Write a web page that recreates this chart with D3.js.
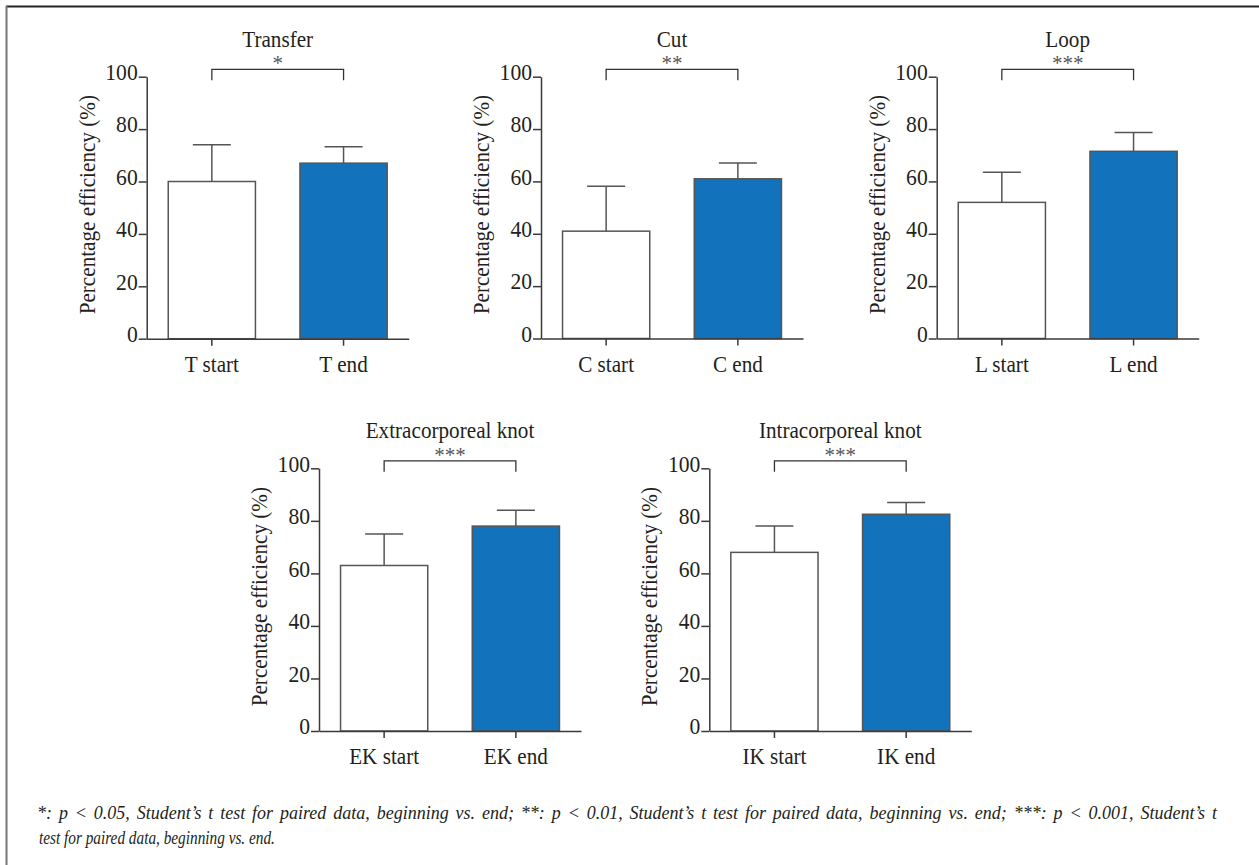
<!DOCTYPE html>
<html>
<head>
<meta charset="utf-8">
<script src="https://cdn.jsdelivr.net/npm/d3@7"></script>
<style>
  html, body { margin: 0; padding: 0; background: #fff; }
  svg { display: block; }
  text { font-family: "Liberation Serif", "Times New Roman", serif; fill: #231f20; }
</style>
</head>
<body>
<svg id="chart" width="1259" height="865"></svg>
<script>
// ---- Data ----
const titles = ["Transfer", "Cut", "Loop", "Extracorporeal knot", "Intracorporeal knot"];
const startLabels = ["T start", "C start", "L start", "EK start", "IK start"];
const endLabels = ["T end", "C end", "L end", "EK end", "IK end"];
const startMeans = [60, 41, 52, 63, 68];
const startSD = [14, 17.2, 11.5, 12, 10];
const endMeans = [67, 61, 71.5, 78, 82.5];
const endSD = [6.3, 6, 7.2, 6, 4.5];
const significance = ["*", "**", "***", "***", "***"];
const yTicks = [0, 20, 40, 60, 80, 100];
const yLabel = "Percentage efficiency (%)";
const footnote1 = "*: p < 0.05, Student\u2019s t test for paired data, beginning vs. end; **: p < 0.01, Student\u2019s t test for paired data, beginning vs. end; ***: p < 0.001, Student\u2019s t";
const footnote2 = "test for paired data, beginning vs. end.";

// ---- Layout ----
const panels = [
  {x: 146.7, top: 76.7, bottom: 338.7},
  {x: 541,   top: 76.7, bottom: 338.5},
  {x: 936.7, top: 76.7, bottom: 338.5},
  {x: 319,   top: 468.3, bottom: 731},
  {x: 709.3, top: 468.3, bottom: 731}
];
const plotW = 262;
const blue = "#1273bc";
const axisColor = "#3a3a3a";
const condense = 0.92;

const svg = d3.select("#chart");

function squeeze(sel, f) {
  sel.each(function () {
    const w = this.getComputedTextLength();
    d3.select(this).attr("textLength", w * f).attr("lengthAdjust", "spacingAndGlyphs");
  });
}

// frame
svg.append("line").attr("x1", 6).attr("x2", 1259).attr("y1", 6.5).attr("y2", 6.5)
  .attr("stroke", "#222").attr("stroke-width", 2);
svg.append("line").attr("x1", 6.5).attr("x2", 6.5).attr("y1", 6).attr("y2", 865)
  .attr("stroke", "#777").attr("stroke-width", 2);

panels.forEach((p, i) => {
  const g = svg.append("g").attr("transform", `translate(${p.x},0)`);
  const cats = [startLabels[i], endLabels[i]];
  const means = [startMeans[i], endMeans[i]];
  const sds = [startSD[i], endSD[i]];

  const x = d3.scaleBand().domain(cats).range([0, plotW]).paddingInner(0.338).paddingOuter(0.1635);
  const y = d3.scaleLinear().domain([0, 100]).range([p.bottom, p.top]);

  // bars
  g.selectAll("rect.bar").data(cats).join("rect")
    .attr("class", "bar")
    .attr("x", d => x(d))
    .attr("width", x.bandwidth())
    .attr("y", (d, k) => y(means[k]))
    .attr("height", (d, k) => y(0) - y(means[k]))
    .attr("fill", (d, k) => k === 0 ? "#fff" : blue)
    .attr("stroke", "#555")
    .attr("stroke-width", 1.5);

  // error bars
  const eb = g.selectAll("g.err").data(cats).join("g").attr("class", "err");
  eb.append("line")
    .attr("x1", d => x(d) + x.bandwidth() / 2).attr("x2", d => x(d) + x.bandwidth() / 2)
    .attr("y1", (d, k) => y(means[k])).attr("y2", (d, k) => y(means[k] + sds[k]))
    .attr("stroke", "#555").attr("stroke-width", 1.5);
  eb.append("line")
    .attr("x1", d => x(d) + x.bandwidth() / 2 - 19).attr("x2", d => x(d) + x.bandwidth() / 2 + 19)
    .attr("y1", (d, k) => y(means[k] + sds[k])).attr("y2", (d, k) => y(means[k] + sds[k]))
    .attr("stroke", "#555").attr("stroke-width", 1.5);

  // y axis
  const yAxis = g.append("g").call(
    d3.axisLeft(y).tickValues(yTicks).tickSize(8).tickSizeOuter(0).tickPadding(1)
  );
  yAxis.select(".domain").attr("stroke", axisColor).attr("stroke-width", 1.5);
  yAxis.selectAll(".tick line").attr("stroke", axisColor).attr("stroke-width", 1.5);
  yAxis.selectAll(".tick text").attr("font-size", 22.5).attr("dy", "0.12em")
    .style("font-family", "Liberation Serif").attr("fill", "#231f20");
  squeeze(yAxis.selectAll(".tick text"), 0.96);

  // x axis
  const xAxis = g.append("g").attr("transform", `translate(0,${y(0)})`).call(
    d3.axisBottom(x).tickSize(7).tickSizeOuter(0).tickPadding(10)
  );
  xAxis.select(".domain").attr("stroke", axisColor).attr("stroke-width", 1.5);
  xAxis.selectAll(".tick line").attr("stroke", axisColor).attr("stroke-width", 1.5);
  xAxis.selectAll(".tick text").attr("font-size", 23)
    .style("font-family", "Liberation Serif").attr("fill", "#231f20");
  squeeze(xAxis.selectAll(".tick text"), condense);

  // y label
  const yl = g.append("text")
    .attr("transform", `translate(-60,${(y(0) + y(100)) / 2 - 3}) rotate(-90)`)
    .attr("text-anchor", "middle")
    .attr("dy", "0.35em")
    .attr("font-size", 23)
    .text(yLabel);
  squeeze(yl, condense);

  // significance bracket
  const c1 = x(cats[0]) + x.bandwidth() / 2;
  const c2 = x(cats[1]) + x.bandwidth() / 2;
  const by = y(100) - 7.4;
  g.append("path")
    .attr("d", `M${c1},${y(100) + 3.5}V${by}H${c2}V${y(100) + 3.5}`)
    .attr("fill", "none").attr("stroke", "#333").attr("stroke-width", 1.3);
  g.append("text")
    .attr("x", (c1 + c2) / 2).attr("y", by + 1)
    .attr("text-anchor", "middle")
    .attr("font-size", 21)
    .style("fill", "#555")
    .text(significance[i]);

  // title
  const t = g.append("text")
    .attr("x", (c1 + c2) / 2).attr("y", y(100) - 30)
    .attr("text-anchor", "middle")
    .attr("font-size", 23)
    .text(titles[i]);
  squeeze(t, condense);
});

// footnote (condensed italic, justified first line)
const s1 = 1.0, s2 = 0.85;
const fn1 = svg.append("g").attr("transform", `translate(37,0) scale(${s1},1)`);
const l1 = fn1.append("text").attr("x", 0).attr("y", 819)
  .attr("font-size", 18).attr("font-style", "italic")
  .text(footnote1);
const natural = l1.node().getComputedTextLength();
const nSpaces = (footnote1.match(/ /g) || []).length;
const extra = Math.max(0, (1180 / s1 - natural) / nSpaces);
l1.style("word-spacing", extra + "px");
const fn2 = svg.append("g").attr("transform", `translate(39,0) scale(${s2},1)`);
fn2.append("text").attr("x", 0).attr("y", 844)
  .attr("font-size", 18).attr("font-style", "italic")
  .text(footnote2);
</script>
</body>
</html>
